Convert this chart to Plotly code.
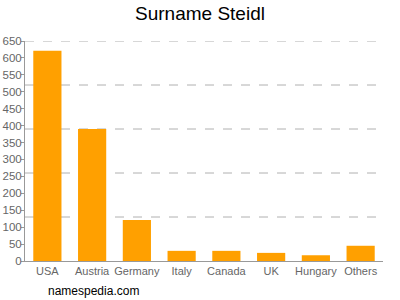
import plotly.graph_objects as go

categories = ["USA", "Austria", "Germany", "Italy", "Canada", "UK", "Hungary", "Others"]
values = [621, 390, 121, 30, 30, 24, 17, 45]
y_ticks = list(range(0, 651, 50))
grid_vals = [130, 260, 390, 520, 650]

fig = go.Figure()
fig.add_trace(go.Bar(x=categories, y=values, marker_color="#FFA000", marker_line_width=0, hoverinfo="skip"))

shapes = [dict(type="line", xref="paper", yref="y", x0=0, x1=1, y0=g, y1=g, layer="below",
               line=dict(color="#B0B0B0", width=1, dash="dash")) for g in grid_vals]

fig.update_layout(
    width=400, height=300,
    margin=dict(l=25, r=17, t=41, b=39),
    paper_bgcolor="white", plot_bgcolor="white",
    showlegend=False, bargap=0.37,
    font=dict(family="Liberation Sans, Arial, sans-serif", color="#666666", size=11),
    title=dict(text="Surname Steidl", x=0.5, xanchor="center", y=0.955, yanchor="middle",
               font=dict(size=19, color="#000000")),
    xaxis=dict(showline=True, linecolor="#999999", linewidth=1, ticks="", showgrid=False,
               automargin=False, tickfont=dict(size=11, color="#666666")),
    yaxis=dict(range=[0, 650], tickvals=y_ticks, showline=True, linecolor="#999999", linewidth=1,
               ticks="outside", ticklen=3, tickcolor="#999999", showgrid=False, zeroline=False,
               automargin=False, ticklabelstandoff=-3, tickfont=dict(size=11.5, color="#666666")),
    shapes=shapes,
    annotations=[dict(text="namespedia.com", x=(46-25)/358, y=(261-291)/220, xref="paper", yref="paper",
                      showarrow=False, font=dict(size=12, color="#000000"),
                      xanchor="left", yanchor="middle")],
)
fig.write_html("out.html")
